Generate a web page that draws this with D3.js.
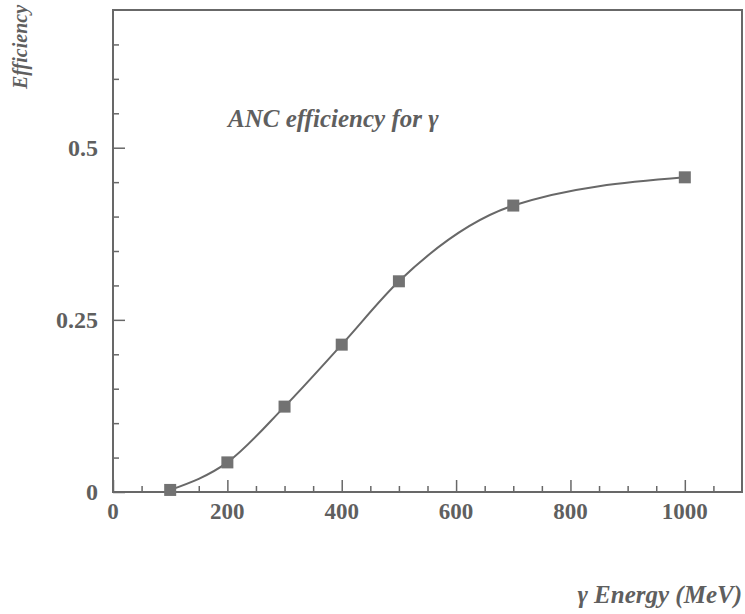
<!DOCTYPE html>
<html>
<head>
<meta charset="utf-8">
<script src="https://cdn.jsdelivr.net/npm/d3@7"></script>
<style>
  html, body { margin: 0; padding: 0; background: #fff; }
  svg { display: block; }
  text { font-family: "Liberation Serif", "DejaVu Serif", serif; fill: #5f5f5f; }
</style>
</head>
<body>
<svg id="chart" width="745" height="614"></svg>
<script>
// Photon energies (MeV) and the measured ANC efficiency at each energy
const energies = [100, 200, 300, 400, 500, 700, 1000];
const efficiency = [0.003, 0.043, 0.124, 0.214, 0.306, 0.416, 0.457];

// Axis ticks
const xMajorTicks = [0, 200, 400, 600, 800, 1000];
const xMinorTicks = d3.range(50, 1100, 50).filter(v => v % 200 !== 0);
const yMajorTicks = [0, 0.25, 0.5];
const yMinorTicks = d3.range(0.05, 0.7, 0.05).filter(v => Math.abs(v / 0.25 - Math.round(v / 0.25)) > 1e-6);
const yTickLabels = ["0", "0.25", "0.5"];

const ink = "#686868";
const svg = d3.select("#chart");

const plot = { left: 113, right: 742, top: 10, bottom: 492 };
const x = d3.scaleLinear().domain([0, 1100]).range([plot.left, plot.right]);
const y = d3.scaleLinear().domain([0, 0.7]).range([plot.bottom, plot.top]);

// frame
svg.append("rect")
  .attr("x", plot.left).attr("y", plot.top)
  .attr("width", plot.right - plot.left).attr("height", plot.bottom - plot.top)
  .attr("fill", "none").attr("stroke", ink).attr("stroke-width", 2);

// bottom axis: inward ticks, labels below
const xAxis = svg.append("g").attr("transform", `translate(0,${plot.bottom})`);
xAxis.append("g").call(d3.axisTop(x).tickValues(xMinorTicks).tickSize(6).tickFormat(""));
xAxis.append("g").call(d3.axisTop(x).tickValues(xMajorTicks).tickSize(12).tickFormat(""));
xAxis.selectAll(".domain").remove();
xAxis.selectAll("line").attr("stroke", ink).attr("stroke-width", 1.5);
xAxis.selectAll("text.xl").data(xMajorTicks).enter().append("text")
  .attr("class", "xl")
  .attr("x", d => x(d)).attr("y", 27)
  .attr("text-anchor", "middle")
  .attr("font-size", 23).attr("font-weight", "bold")
  .text(d => d);

// left axis: inward ticks, labels to the left
const yAxis = svg.append("g").attr("transform", `translate(${plot.left},0)`);
yAxis.append("g").call(d3.axisRight(y).tickValues(yMinorTicks).tickSize(6).tickFormat(""));
yAxis.append("g").call(d3.axisRight(y).tickValues(yMajorTicks).tickSize(12).tickFormat(""));
yAxis.selectAll(".domain").remove();
yAxis.selectAll("line").attr("stroke", ink).attr("stroke-width", 1.5);
yAxis.selectAll("text.yl").data(yMajorTicks).enter().append("text")
  .attr("class", "yl")
  .attr("x", -15).attr("y", d => y(d) + 8)
  .attr("text-anchor", "end")
  .attr("font-size", 24).attr("font-weight", "bold")
  .text((d, i) => yTickLabels[i]);

// smooth efficiency curve through the measurements
const pts = energies.map((e, i) => [e, efficiency[i]]);
svg.append("path")
  .datum(pts)
  .attr("fill", "none").attr("stroke", ink).attr("stroke-width", 2)
  .attr("d", d3.line().x(d => x(d[0])).y(d => y(d[1])).curve(d3.curveMonotoneX));

// square markers
const s = 12;
svg.selectAll("rect.pt").data(pts).enter().append("rect")
  .attr("class", "pt")
  .attr("x", d => x(d[0]) - s / 2).attr("y", d => y(d[1]) - s / 2)
  .attr("width", s).attr("height", s)
  .attr("fill", "#727272");

// in-plot caption
svg.append("text")
  .attr("x", 228).attr("y", 127)
  .attr("font-size", 25).attr("font-weight", "bold").attr("font-style", "italic")
  .text("ANC efficiency for γ");

// axis titles
svg.append("text")
  .attr("x", 742).attr("y", 603)
  .attr("text-anchor", "end")
  .attr("font-size", 25).attr("font-weight", "bold").attr("font-style", "italic")
  .text("γ Energy (MeV)");

svg.append("text")
  .attr("transform", "translate(27,47) rotate(-90)")
  .attr("text-anchor", "middle")
  .attr("font-size", 20).attr("font-weight", "bold").attr("font-style", "italic")
  .text("Efficiency");
</script>
</body>
</html>
